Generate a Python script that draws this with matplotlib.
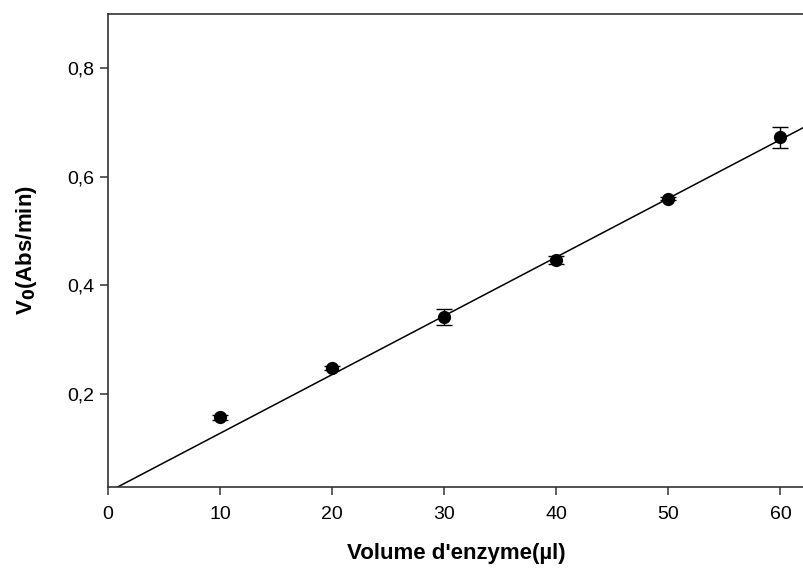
import numpy as np
import matplotlib.pyplot as plt
from matplotlib.ticker import FuncFormatter

# volume d'enzyme (µl) et vitesse initiale V0 (Abs/min)
volume = [10, 20, 30, 40, 50, 60]
v0 = [0.157, 0.248, 0.342, 0.447, 0.560, 0.673]
v0_err = [0.005, 0.004, 0.015, 0.007, 0.003, 0.019]

# droite de régression
slope = 0.01082
intercept = 0.0194

plt.rcParams["font.family"] = ["Liberation Sans", "DejaVu Sans"]

fig = plt.figure(figsize=(8.04, 5.68), dpi=100)
ax = fig.add_axes([0.1343, 0.1426, 0.8657, 0.8328])

xx = np.array([0, 63])
ax.plot(xx, slope * xx + intercept, color="black", linewidth=1.1)
ax.errorbar(volume, v0, yerr=v0_err, fmt="o", color="black",
            markersize=8.5, ecolor="black", elinewidth=1, capsize=5.5,
            capthick=1)

ax.set_xlim(0, 62.1)
ax.set_ylim(0.0287, 0.9)
ax.set_xticks([0, 10, 20, 30, 40, 50, 60])
ax.set_yticks([0.2, 0.4, 0.6, 0.8])
ax.yaxis.set_major_formatter(FuncFormatter(lambda v, p: f"{v:.1f}".replace(".", ",")))

ax.spines["right"].set_visible(False)
for s in ["left", "bottom", "top"]:
    ax.spines[s].set_linewidth(1.2)
    ax.spines[s].set_color("#333333")
ax.tick_params(direction="out", length=6, width=1.1, color="#333333",
               labelsize=14)
ax.tick_params(axis="x", pad=8)
ax.tick_params(axis="y", pad=4)

ax.set_xlabel("Volume d'enzyme(µl)", fontsize=16, fontweight="bold", labelpad=14)
ax.set_ylabel("V$_\\mathbf{0}$(Abs/min)", fontsize=16, fontweight="bold", labelpad=20)

fig.savefig("out.png", dpi=100)
